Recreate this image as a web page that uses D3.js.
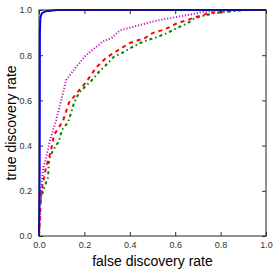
<!DOCTYPE html>
<html>
<head>
<meta charset="utf-8">
<script src="https://cdn.jsdelivr.net/npm/d3@7"></script>
<style>
  body { margin: 0; background: #fff; }
  text { font-family: "Liberation Sans", Arial, sans-serif; }
</style>
</head>
<body>
<div id="chart-area"></div>
<script>
// curves: [false discovery rate, true discovery rate]
var blueCurve = [[0, 0], [0.003, 0.3], [0.004, 0.9], [0.006, 0.965], [0.012, 0.985], [0.03, 0.995], [0.08, 1.0], [1.0, 1.0]];
var magentaCurve = [[0, 0], [0.004, 0.1], [0.01, 0.21], [0.018, 0.3], [0.03, 0.34], [0.05, 0.43], [0.075, 0.51], [0.1, 0.61], [0.12, 0.69],
  [0.163, 0.748], [0.207, 0.80], [0.25, 0.835], [0.28, 0.86], [0.32, 0.876], [0.357, 0.91], [0.445, 0.934], [0.533, 0.956],
  [0.61, 0.97], [0.656, 0.978], [0.72, 0.99], [0.8, 1.0], [1.0, 1.0]];
var redCurve = [[0, 0], [0.005, 0.1], [0.01, 0.195], [0.022, 0.257], [0.03, 0.30], [0.044, 0.345], [0.053, 0.38], [0.066, 0.447],
  [0.106, 0.51], [0.132, 0.59], [0.185, 0.655], [0.207, 0.68], [0.25, 0.743], [0.295, 0.788], [0.335, 0.814],
  [0.40, 0.854], [0.467, 0.876], [0.50, 0.898], [0.54, 0.91], [0.577, 0.925], [0.608, 0.942], [0.656, 0.956],
  [0.678, 0.965], [0.753, 0.987], [0.877, 1.0], [1.0, 1.0]];
var greenCurve = [[0, 0], [0.004, 0.146], [0.018, 0.20], [0.04, 0.26], [0.044, 0.34], [0.062, 0.38], [0.088, 0.42], [0.101, 0.469],
  [0.128, 0.504], [0.141, 0.544], [0.154, 0.588], [0.176, 0.633], [0.207, 0.665], [0.229, 0.685], [0.264, 0.726],
  [0.304, 0.765], [0.326, 0.79], [0.366, 0.81], [0.40, 0.83], [0.445, 0.854], [0.48, 0.867], [0.52, 0.88],
  [0.564, 0.898], [0.608, 0.92], [0.656, 0.942], [0.687, 0.965], [0.775, 0.987], [0.907, 1.0], [1.0, 1.0]];
var tickValues = [0, 0.2, 0.4, 0.6, 0.8, 1.0];

var margin = { left: 39, right: 11, top: 10, bottom: 35 };
var width = 277 - margin.left - margin.right,
    height = 271 - margin.top - margin.bottom;

var svg = d3.select("#chart-area")
    .append("svg")
        .attr("width", 277)
        .attr("height", 271);
var g = svg.append("g")
    .attr("transform", "translate(" + margin.left + ", " + margin.top + ")");

var x = d3.scaleLinear().domain([0, 1]).range([0, width]);
var y = d3.scaleLinear().domain([0, 1]).range([height, 0]);

var line = d3.line()
    .x(function(d){ return x(d[0]) })
    .y(function(d){ return y(d[1]) });

var series = [
  { data: greenCurve, color: "#008000", dash: "3,3,1.5,3", w: 2 },
  { data: redCurve, color: "#ff0000", dash: "4,4", w: 2 },
  { data: magentaCurve, color: "#c020c0", dash: "1.2,1.8", w: 2 },
  { data: blueCurve, color: "#0000ff", dash: null, w: 2 }
];

svg.append("clipPath").attr("id", "clip")
  .append("rect").attr("x", -1).attr("y", -1).attr("width", width + 2).attr("height", height + 2);

g.append("g").attr("clip-path", "url(#clip)")
  .selectAll("path").data(series).enter()
  .append("path")
    .attr("d", function(d){ return line(d.data) })
    .attr("fill", "none")
    .attr("stroke", function(d){ return d.color })
    .attr("stroke-width", function(d){ return d.w })
    .attr("stroke-dasharray", function(d){ return d.dash });

// axes, ticks inward on every side
function styleAxis(sel) {
  sel.select(".domain").remove();
  sel.selectAll(".tick line").attr("stroke", "#333");
  sel.selectAll(".tick text").attr("fill", "#333").attr("font-size", "9px");
}
g.append("g").attr("transform", "translate(0," + height + ")")
  .call(d3.axisBottom(x).tickValues(tickValues).tickSizeInner(-4).tickPadding(6).tickFormat(d3.format(".1f")))
  .call(styleAxis);
g.append("g")
  .call(d3.axisLeft(y).tickValues(tickValues).tickSizeInner(-4).tickPadding(7).tickFormat(d3.format(".1f")))
  .call(styleAxis);
g.append("g")
  .call(d3.axisTop(x).tickValues(tickValues).tickSizeInner(-4).tickFormat(""))
  .call(styleAxis);
g.append("g").attr("transform", "translate(" + width + ",0)")
  .call(d3.axisRight(y).tickValues(tickValues).tickSizeInner(-4).tickFormat(""))
  .call(styleAxis);

g.append("rect")
  .attr("width", width).attr("height", height)
  .attr("fill", "none").attr("stroke", "#222").attr("stroke-width", 1);

// labels
g.append("text")
  .attr("x", width / 2)
  .attr("y", height + 30)
  .attr("font-size", "14px")
  .attr("text-anchor", "middle")
  .text("false discovery rate");

g.append("text")
  .attr("transform", "rotate(-90)")
  .attr("x", -height / 2)
  .attr("y", -23)
  .attr("font-size", "14px")
  .attr("text-anchor", "middle")
  .text("true discovery rate");
</script>
</body>
</html>
